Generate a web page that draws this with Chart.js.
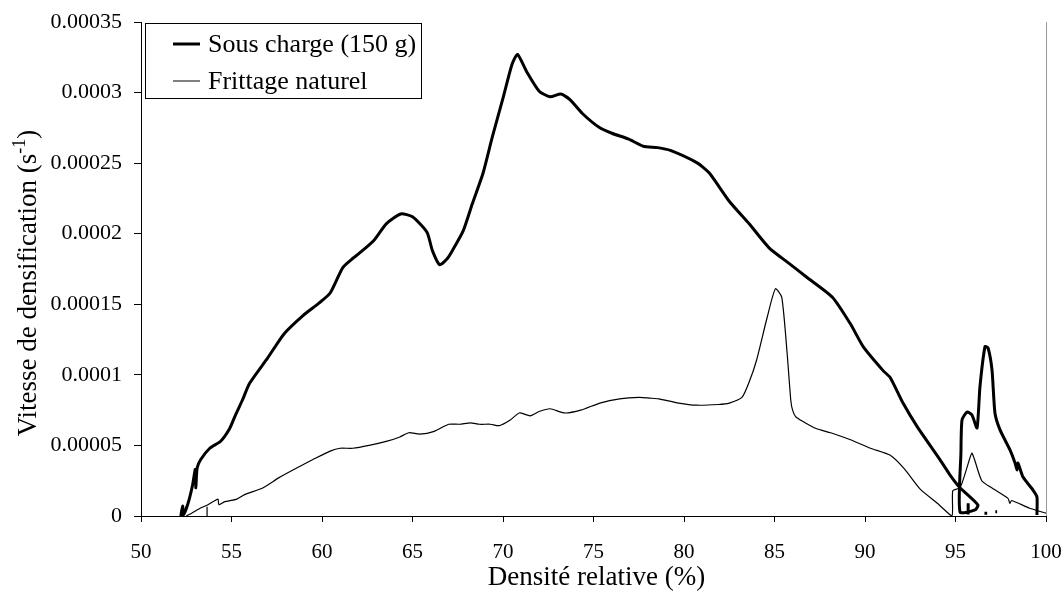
<!DOCTYPE html>
<html>
<head>
<meta charset="utf-8">
<script src="https://cdn.jsdelivr.net/npm/chart.js@4.4.1/dist/chart.umd.min.js"></script>
<style>
  html, body { margin: 0; padding: 0; background: #fff; }
</style>
</head>
<body>
<canvas id="chart" width="1064" height="596"></canvas>
<script>
const SERIF = '"Liberation Serif", "Times New Roman", serif';

const xTitle = 'Densité relative (%)';
const yTitleMain = 'Vitesse de densification (s';
const yTitleSup = '-1';
const seriesNames = ['Sous charge (150 g)', 'Frittage naturel'];

const xTicks = [50, 55, 60, 65, 70, 75, 80, 85, 90, 95, 100];
const yTicks = [0, 0.00005, 0.0001, 0.00015, 0.0002, 0.00025, 0.0003, 0.00035];
const yTickLabels = ['0', '0.00005', '0.0001', '0.00015', '0.0002', '0.00025', '0.0003', '0.00035'];

// sous charge (150 g) - null = break in the trace
const chargeDensity = [
  52.2, 52.3, 52.35, 52.6, 52.85, 53.0, 53.03, 53.1, 53.3, 53.8, 54.4, 54.9, 55.2, 55.6, 56.0,
  57.0, 57.9, 58.95, 59.85, 60.45, 61.15, 61.75, 62.05, 62.85, 63.55, 64.35, 65.0, 65.8, 66.1,
  66.5, 66.9, 67.2, 67.8, 68.3, 68.9, 69.4, 70.0, 70.5, 70.8, 71.3, 72.0, 72.6, 73.2, 73.7,
  74.4, 75.35, 76.05, 76.95, 77.75, 78.55, 79.25, 80.75, 81.4, 82.5, 83.6, 84.7, 85.8, 86.8,
  88.2, 89.2, 89.9, 91.0, 91.4, 92.1, 92.9, 94.14, 94.7, 95.25, 96.24, 96.08, 95.25, 95.3,
  95.36, 95.64, 95.91, 96.19, 96.35, 96.63, 96.8, 97.02, 97.18, 97.46, 98.01, 98.29, 98.4,
  98.45, 98.73, 99.28, 99.5, 99.5,
  95.7, 95.7, 95.7,
  96.6, 96.6, 96.75,
  97.2, 97.2, 97.3
];
const chargeRate = [
  0, 0.000007, 0.000001, 0.000009, 0.000022, 0.000033, 0.00002, 0.000034, 0.00004, 0.000048,
  0.000053, 0.000062, 0.000071, 0.000082, 0.000094, 0.000112, 0.000129, 0.000142, 0.000151,
  0.000158, 0.000176, 0.000183, 0.000186, 0.000195, 0.000207, 0.000214, 0.000212, 0.000201,
  0.000188, 0.000178, 0.000182, 0.000188, 0.000202, 0.000221, 0.000243, 0.000268, 0.000296,
  0.00032, 0.000327, 0.000315, 0.000301, 0.000297, 0.000299, 0.000295, 0.000285, 0.000275,
  0.000271, 0.000267, 0.000262, 0.000261, 0.000259, 0.00025, 0.000243, 0.000223, 0.000207,
  0.00019, 0.000179, 0.000169, 0.000155, 0.000136, 0.00012, 0.000103, 0.000098, 0.00008,
  0.000063, 0.00004, 0.000029, 0.00002, 0.0000078, 0.0000043, 0.0000028, 0.0000446, 0.000068,
  0.0000737, 0.0000716, 0.0000624, 0.0000914, 0.00012, 0.000119, 0.000103, 0.000073, 0.000061,
  0.0000468, 0.0000376, 0.0000326, 0.0000376, 0.0000276, 0.0000184, 0.0000135, 0.0000007,
  null, 0.000009, 0.000001,
  null, 0.000002, 0.000002,
  null, 0.000003, 0.000003
];

// frittage naturel
const naturelDensity = [
  53.65, 53.65, 53.65,
  52.5, 52.8, 53.2, 53.7, 54.25, 54.3, 54.6, 55.3, 55.7, 56.75, 57.6, 58.6, 59.5, 60.45, 61.0,
  61.7, 62.6, 63.6, 64.3, 64.8, 65.4, 66.2, 67.0, 67.6, 68.2, 68.7, 69.3, 69.8, 70.4, 70.9,
  71.5, 72.0, 72.6, 73.4, 74.3, 75.35, 76.45, 77.55, 78.1, 78.6, 79.7, 80.7, 81.9, 82.5, 83.2,
  83.6, 84.0, 84.6, 85.05, 85.4, 85.7, 85.9, 86.0, 86.2, 87.3, 88.1, 89.2, 90.3, 91.4, 92.2,
  93.05, 94.0, 94.8, 94.85, 95.25, 95.65, 95.9, 96.05, 96.45, 97.0, 97.9, 98.0, 98.1, 99.1, 100
];
const naturelRate = [
  0.0000065, 0, null,
  0, 0.000002, 0.000005, 0.000008, 0.000012, 0.000008, 0.00001, 0.000012, 0.000015, 0.00002,
  0.000027, 0.000034, 0.00004, 0.000046, 0.000048, 0.000048, 0.00005, 0.000053, 0.000056,
  0.000059, 0.000058, 0.00006, 0.000065, 0.000065, 0.000066, 0.000065, 0.000065, 0.000064,
  0.000068, 0.000073, 0.000071, 0.000074, 0.000076, 0.000073, 0.000075, 0.00008, 0.000083,
  0.000084, 0.0000835, 0.000083, 0.00008, 0.0000785, 0.000079, 0.00008, 0.000084, 0.000095,
  0.00011, 0.000141, 0.000161, 0.000155, 0.000115, 0.000082, 0.000075, 0.00007, 0.000062,
  0.000059, 0.000054, 0.000048, 0.000043, 0.000033, 0.000019, 0.000009, 0, 0.000018, 0.00002,
  0.000035, 0.0000445, 0.00004, 0.000025, 0.00002, 0.0000125, 0.000009, 0.000011, 0.0000055,
  0.000002
];

const toPoints = (xs, ys) => xs.map((x, i) => ({ x, y: ys[i] }));

// titles, legend box and the grey right edge are drawn by hand
const overlay = {
  id: 'overlay',
  afterDraw(chart) {
    const { ctx, chartArea: a } = chart;
    ctx.save();

    ctx.strokeStyle = '#9a9a9a';
    ctx.lineWidth = 1;
    ctx.beginPath();
    ctx.moveTo(a.right + 0.5, a.top);
    ctx.lineTo(a.right + 0.5, a.bottom);
    ctx.stroke();

    // legend box
    ctx.strokeStyle = '#000';
    ctx.strokeRect(145.5, 23.5, 276, 75);
    ctx.fillStyle = '#000';
    ctx.font = `26px ${SERIF}`;
    ctx.textAlign = 'left';
    ctx.textBaseline = 'middle';
    const rows = [{ y: 44, w: 3 }, { y: 81, w: 1 }];
    rows.forEach((r, i) => {
      ctx.lineWidth = r.w;
      ctx.beginPath();
      ctx.moveTo(173, r.y);
      ctx.lineTo(200, r.y);
      ctx.stroke();
      ctx.fillText(seriesNames[i], 208, r.y + 1);
    });

    // x title
    ctx.font = `27px ${SERIF}`;
    ctx.textAlign = 'center';
    ctx.fillText(xTitle, (a.left + a.right) / 2 + 3, 578);

    // y title with superscript
    ctx.translate(29, 283);
    ctx.rotate(-Math.PI / 2);
    const mainW = ctx.measureText(yTitleMain).width;
    ctx.font = `18px ${SERIF}`;
    const supW = ctx.measureText(yTitleSup).width;
    ctx.font = `27px ${SERIF}`;
    const closeW = ctx.measureText(')').width;
    const total = mainW + supW + closeW;
    let x0 = -total / 2;
    ctx.textAlign = 'left';
    ctx.fillText(yTitleMain, x0, 0);
    ctx.font = `18px ${SERIF}`;
    ctx.fillText(yTitleSup, x0 + mainW, -9);
    ctx.font = `27px ${SERIF}`;
    ctx.fillText(')', x0 + mainW + supW, 0);

    ctx.restore();
  }
};

new Chart(document.getElementById('chart'), {
  type: 'scatter',
  data: {
    datasets: [
      {
        label: seriesNames[0],
        data: toPoints(chargeDensity, chargeRate),
        showLine: true,
        spanGaps: false,
        borderColor: '#000',
        borderWidth: 3,
        pointRadius: 0,
        tension: 0.2,
      },
      {
        label: seriesNames[1],
        data: toPoints(naturelDensity, naturelRate),
        showLine: true,
        spanGaps: false,
        borderColor: '#000',
        borderWidth: 1.2,
        pointRadius: 0,
        tension: 0.2,
      },
    ],
  },
  options: {
    responsive: false,
    animation: false,
    devicePixelRatio: 1,
    layout: { padding: { top: 22, right: 18, bottom: 0, left: 0 } },
    plugins: {
      legend: { display: false },
      tooltip: { enabled: false },
    },
    scales: {
      x: {
        type: 'linear',
        min: 50,
        max: 100,
        afterBuildTicks: (scale) => { scale.ticks = xTicks.map((v) => ({ value: v })); },
        afterFit: (scale) => {
          scale.height = 80;
          scale.paddingLeft = 0;
          scale.paddingRight = 0;
        },
        border: { color: '#000', width: 1 },
        grid: { display: true, drawOnChartArea: false, tickLength: 6, color: '#000' },
        ticks: {
          color: '#000',
          padding: 18,
          maxRotation: 0,
          font: { family: SERIF, size: 21 },
          callback: (v) => String(v),
        },
      },
      y: {
        type: 'linear',
        min: 0,
        max: 0.00035,
        afterBuildTicks: (scale) => { scale.ticks = yTicks.map((v) => ({ value: v })); },
        afterFit: (scale) => {
          scale.width = 141;
          scale.paddingTop = 0;
          scale.paddingBottom = 0;
        },
        border: { color: '#000', width: 1 },
        grid: { display: true, drawOnChartArea: false, tickLength: 7, color: '#000' },
        ticks: {
          color: '#000',
          padding: 12,
          font: { family: SERIF, size: 22 },
          callback: (v, i) => yTickLabels[i],
        },
      },
    },
  },
  plugins: [overlay],
});
</script>
</body>
</html>
